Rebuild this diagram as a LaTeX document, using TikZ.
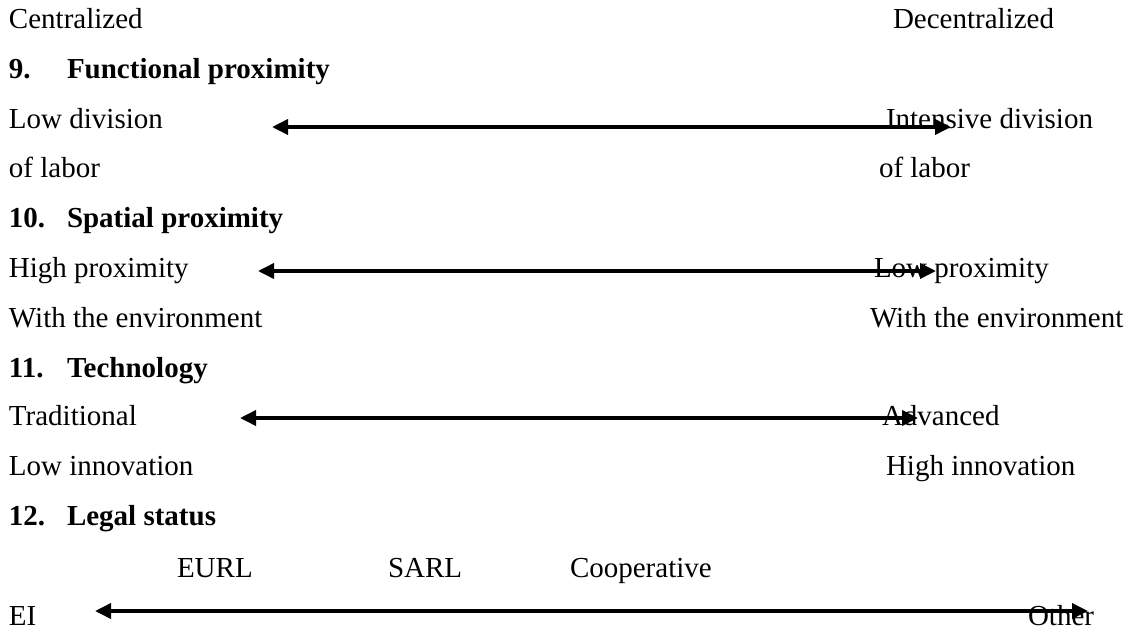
\documentclass[tikz,border=0pt]{standalone}
\usepackage{fontspec}
\setmainfont{Liberation Serif}
\usetikzlibrary{arrows.meta}
\begin{document}
\begin{tikzpicture}[x=1pt,y=-1pt,
  lbl/.style={anchor=base west,inner sep=0pt,outer sep=0pt,font=\fontsize{29}{35}\selectfont},
  hd/.style={lbl,font=\fontsize{29}{35}\selectfont\bfseries},
  axis/.style={line width=3.6pt,{Triangle[length=16pt,width=15pt]}-{Triangle[length=16pt,width=15pt]}}]
\useasboundingbox (0,0) rectangle (1128,630);
% row 0
\node[lbl] (cen) at (9,28) {Centralized};
\node[lbl] (dec) at (893,28) {Decentralized};
% 9
\node[hd] (n9) at (9,78) {9.};
\node[hd] (h9) at (67,78) {Functional proximity};
\node[lbl] (l9a) at (9,128) {Low division};
\node[lbl] (l9b) at (9,177) {of labor};
\node[lbl] (r9a) at (886,128) {Intensive division};
\node[lbl] (r9b) at (879,177) {of labor};
\coordinate (a9l) at (272,127);
\coordinate (a9r) at (951,127);
\draw[axis] (a9l) -- (a9r);
% 10
\node[hd] (n10) at (9,227) {10.};
\node[hd] (h10) at (67,227) {Spatial proximity};
\node[lbl] (l10a) at (9,277) {High proximity};
\node[lbl] (l10b) at (9,327) {With the environment};
\node[lbl] (r10a) at (874,277) {Low proximity};
\node[lbl] (r10b) at (870,327) {With the environment};
\coordinate (a10l) at (258,271);
\coordinate (a10r) at (936,271);
\draw[axis] (a10l) -- (a10r);
% 11
\node[hd] (n11) at (9,377) {11.};
\node[hd] (h11) at (67,377) {Technology};
\node[lbl] (l11a) at (9,425) {Traditional};
\node[lbl] (l11b) at (9,475) {Low innovation};
\node[lbl] (r11a) at (882,425) {Advanced};
\node[lbl] (r11b) at (886,475) {High innovation};
\coordinate (a11l) at (240,418);
\coordinate (a11r) at (918,418);
\draw[axis] (a11l) -- (a11r);
% 12
\node[hd] (n12) at (9,525) {12.};
\node[hd] (h12) at (67,525) {Legal status};
\node[lbl] (eurl) at (177,577) {EURL};
\node[lbl] (sarl) at (388,577) {SARL};
\node[lbl] (coop) at (570,577) {Cooperative};
\node[lbl] (ei) at (9,625) {EI};
\node[lbl] (oth) at (1028,625) {Other};
\coordinate (a12l) at (95,611);
\coordinate (a12r) at (1088,611);
\draw[axis] (a12l) -- (a12r);
\end{tikzpicture}
\end{document}
